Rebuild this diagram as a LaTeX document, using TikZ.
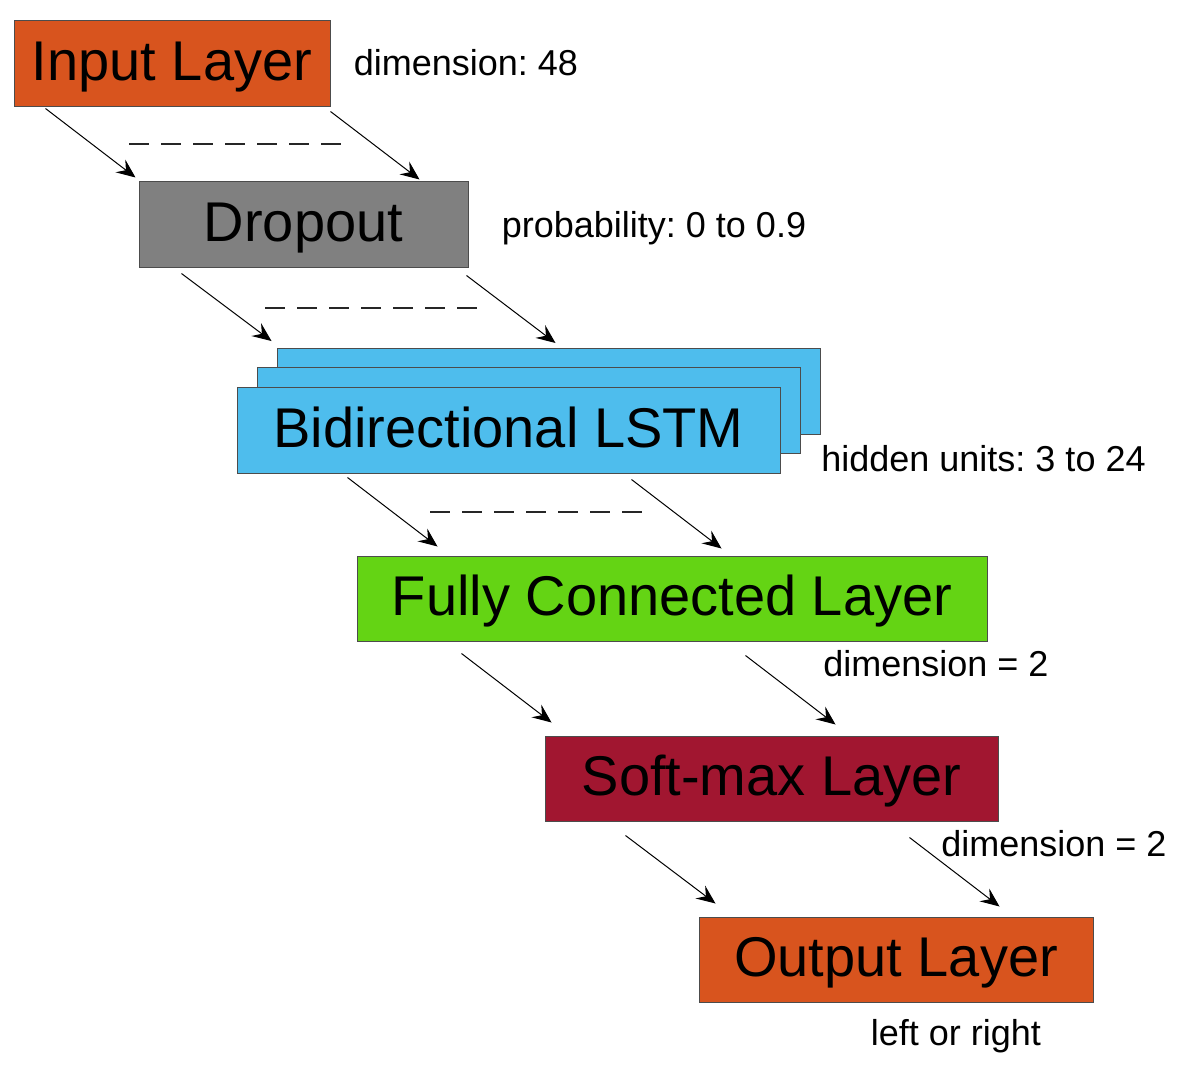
\documentclass[tikz,border=0pt]{standalone}
\usepackage{fontspec}
\setmainfont{Liberation Sans}
\usepackage{tikz}
\usetikzlibrary{arrows.meta,positioning}
\frenchspacing
\definecolor{inorange}{RGB}{216,84,30}
\definecolor{dropgray}{RGB}{128,128,128}
\definecolor{lstmblue}{RGB}{78,189,237}
\definecolor{fcgreen}{RGB}{100,212,20}
\definecolor{softred}{RGB}{161,22,48}
\tikzset{every picture/.style={line width=1pt}}
\tikzstyle{layerbox}=[rectangle,draw=black!70,inner sep=0pt,minimum height=86pt,text height=44pt,text depth=10pt,font=\fontsize{56}{60}\selectfont]
\tikzstyle{infotext}=[anchor=base,inner sep=0pt,font=\fontsize{36}{40}\selectfont]
\tikzstyle{skipline}=[draw=black!85,line width=1.2pt,dash pattern=on 20pt off 12pt]
\tikzstyle{flow}=[draw,line width=1pt,-{Stealth[length=19pt,width=16pt,inset=7pt]}]

\begin{document}
\begin{tikzpicture}[x=1pt,y=-1pt]
\useasboundingbox (0,0) rectangle (1179,1073);
\node[layerbox,fill=inorange,minimum width=316pt] (in) at (172,64) {Input Layer};
\node[layerbox,fill=dropgray,minimum width=329pt] (drop) at (303.5,224) {Dropout};
\node[layerbox,fill=lstmblue,minimum width=543pt] (lstmC) at (548.5,391.5) {};
\node[layerbox,fill=lstmblue,minimum width=543pt] (lstmB) at (528.5,410) {};
\node[layerbox,fill=lstmblue,minimum width=543pt] (lstm) at (508.5,430) {Bidirectional LSTM};
\node[layerbox,fill=fcgreen,minimum width=630pt,minimum height=85pt] (fc) at (672,598.5) {Fully Connected Layer};
\node[layerbox,fill=softred,minimum width=453pt,minimum height=85pt] (soft) at (771.5,778.5) {Soft-max Layer};
\node[layerbox,fill=inorange,minimum width=394pt,minimum height=85pt] (out) at (896,959.5) {Output Layer};
\node[infotext] (inDim) at (466,76) {dimension: 48};
\node[infotext] (dropP) at (654,237) {probability: 0 to 0.9};
\node[infotext] (lstmU) at (983.5,471) {hidden units: 3 to 24};
\node[infotext] (fcDim) at (936,676) {dimension = 2};
\node[infotext] (softDim) at (1054,856) {dimension = 2};
\node[infotext] (outLR) at (956,1045) {left or right};
\draw[skipline] (129,144) -- (341,144);
\draw[skipline] (265,308) -- (477,308);
\draw[skipline] (430,512) -- (643,512);
\draw[flow] ([xshift=32pt,yshift=-1pt]in.south west) -- ([xshift=-3pt,yshift=3pt]drop.north west);
\draw[flow] ([yshift=-4pt]in.south east) -- ([xshift=281pt,yshift=1pt]drop.north west);
\draw[flow] ([xshift=43pt,yshift=-6pt]drop.south west) -- ([xshift=-5pt,yshift=7pt]lstmC.north west);
\draw[flow] ([xshift=-2pt,yshift=-8pt]drop.south east) -- ([xshift=279pt,yshift=5pt]lstmC.north west);
\draw[flow] ([xshift=111pt,yshift=-4pt]lstm.south west) -- ([xshift=81pt,yshift=9pt]fc.north west);
\draw[flow] ([xshift=395pt,yshift=-6pt]lstm.south west) -- ([xshift=365pt,yshift=7pt]fc.north west);
\draw[flow] ([xshift=105pt,yshift=-12pt]fc.south west) -- ([xshift=7pt,yshift=13pt]soft.north west);
\draw[flow] ([xshift=389pt,yshift=-14pt]fc.south west) -- ([xshift=291pt,yshift=11pt]soft.north west);
\draw[flow] ([xshift=81pt,yshift=-14pt]soft.south west) -- ([xshift=17pt,yshift=13pt]out.north west);
\draw[flow] ([xshift=365pt,yshift=-16pt]soft.south west) -- ([xshift=301pt,yshift=10pt]out.north west);
\end{tikzpicture}
\end{document}
